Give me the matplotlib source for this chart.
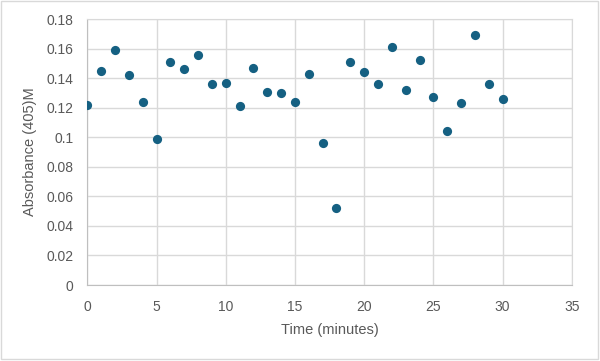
import matplotlib.pyplot as plt
from matplotlib.patches import Rectangle

# absorbance readings, one per minute
time_min = list(range(0, 31))
absorbance = [0.122, 0.145, 0.159, 0.142, 0.124, 0.099, 0.151, 0.146, 0.156, 0.136,
              0.137, 0.121, 0.147, 0.131, 0.130, 0.124, 0.143, 0.096, 0.052, 0.151,
              0.144, 0.136, 0.161, 0.132, 0.152, 0.127, 0.104, 0.123, 0.169, 0.136,
              0.126]

plt.rcParams['font.family'] = ['Liberation Sans', 'DejaVu Sans']

fig = plt.figure(figsize=(6.0, 3.61), dpi=100)
ax = fig.add_axes([0.1458, 0.2105, 0.807, 0.7365])

ax.scatter(time_min, absorbance, s=44, c="#156082", zorder=3, linewidths=0)

ax.set_xlim(0, 35)
ax.set_ylim(0, 0.18)
ax.set_xticks(range(0, 36, 5))
ax.set_yticks([i * 0.02 for i in range(10)])
ax.set_yticklabels(["0", "0.02", "0.04", "0.06", "0.08", "0.1", "0.12", "0.14", "0.16", "0.18"])

ax.grid(True, color="#d9d9d9", linewidth=1)
ax.set_axisbelow(True)
for side in ["top", "right"]:
    ax.spines[side].set_color("#d9d9d9")
for side in ["left", "bottom"]:
    ax.spines[side].set_color("#bfbfbf")
ax.tick_params(length=0, colors="#595959", labelsize=10)
ax.tick_params(axis="x", pad=11)
ax.tick_params(axis="y", pad=10)

ax.set_xlabel("Time (minutes)", color="#595959", fontsize=10.5, labelpad=6)
ax.set_ylabel("Absorbance (405)M", color="#595959", fontsize=10.5, labelpad=7)

fig.patches.append(Rectangle((0.002, 0.006), 0.994, 0.99, transform=fig.transFigure,
                             fill=False, edgecolor="#d9d9d9", linewidth=1))

fig.savefig("out.png", dpi=100)
